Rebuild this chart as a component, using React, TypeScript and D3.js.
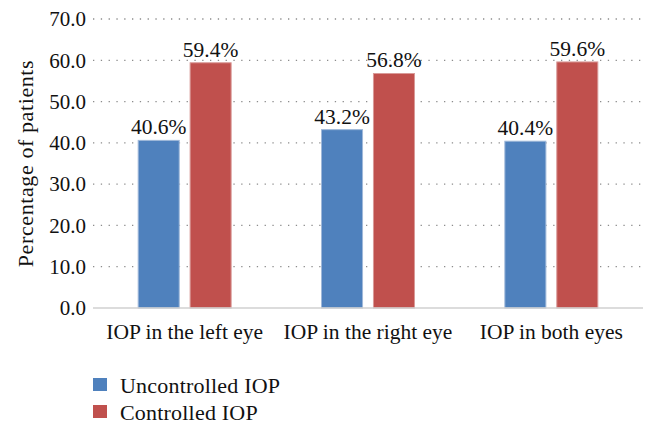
import * as d3 from 'd3';

const categories = ['IOP in the left eye', 'IOP in the right eye', 'IOP in both eyes'];
const seriesNames = ['Uncontrolled IOP', 'Controlled IOP'];
const uncontrolled = [40.6, 43.2, 40.4];
const controlled = [59.4, 56.8, 59.6];
const yTicks = [0, 10, 20, 30, 40, 50, 60, 70];
const colors = ['#4F81BD', '#C0504D'];

const W = 657;
const H = 429;
const margin = { left: 93, right: 14, top: 19, bottom: 120 };
const tf = { fontFamily: "'Liberation Serif'" };

export default function App() {
  const x = d3.scaleBand<string>().domain(categories).range([margin.left, W - margin.right]);
  const inner = d3.scaleBand<string>().domain(seriesNames).range([0, x.bandwidth()]).paddingInner(0.21).paddingOuter(0.87);
  const y = d3.scaleLinear().domain([0, 70]).range([H - margin.bottom - 1, margin.top]);
  const values = [uncontrolled, controlled];

  return (
    <svg width={W} height={H} style={{ position: 'absolute', left: 0, top: 0, background: '#fff' }}>
      {yTicks.slice(1).map((t) => (
        <line key={t} x1={margin.left} x2={W - margin.right} y1={y(t)} y2={y(t)}
          stroke="#8c8c8c" strokeWidth={1.3} strokeDasharray="1.3 6.5" />
      ))}
      {yTicks.map((t) => (
        <text key={t} style={tf} x={86} y={y(t)} dy="0.35em" textAnchor="end" fontSize={21} fill="#111">
          {t.toFixed(1)}
        </text>
      ))}
      <text style={tf} transform={`translate(25,${(y(0) + y(70)) / 2}) rotate(-90)`} textAnchor="middle" dy="0.35em"
        fontSize={22} letterSpacing={0.6} fill="#111">
        Percentage of patients
      </text>
      {categories.map((c, i) => (
        <g key={c}>
          {seriesNames.map((s, j) => {
            const v = values[j][i];
            const bx = (x(c) ?? 0) + (inner(s) ?? 0);
            return (
              <g key={s}>
                <rect x={bx} y={y(v)} width={inner.bandwidth()} height={y(0) - y(v)}
                  fill={colors[j]} stroke={j === 0 ? '#9fb8d9' : '#d99a98'} strokeWidth={1} />
                <text style={tf} x={bx + inner.bandwidth() / 2} y={y(v) - 6} textAnchor="middle" fontSize={21.5} fill="#111">
                  {v.toFixed(1)}%
                </text>
              </g>
            );
          })}
          <text style={tf} x={(x(c) ?? 0) + x.bandwidth() / 2} y={y(0) + 31} textAnchor="middle" fontSize={21.5} fill="#111">
            {c}
          </text>
        </g>
      ))}
      <line x1={margin.left} x2={W - margin.right} y1={y(0)} y2={y(0)} stroke="#d0d0d0" strokeWidth={1.5} />
      {seriesNames.map((s, j) => (
        <g key={s} transform={`translate(93,${378 + j * 27})`}>
          <rect width={14} height={13} fill={colors[j]} />
          <text style={tf} x={27} y={7} dy="0.35em" fontSize={22} letterSpacing={0.2} fill="#111">{s}</text>
        </g>
      ))}
    </svg>
  );
}
